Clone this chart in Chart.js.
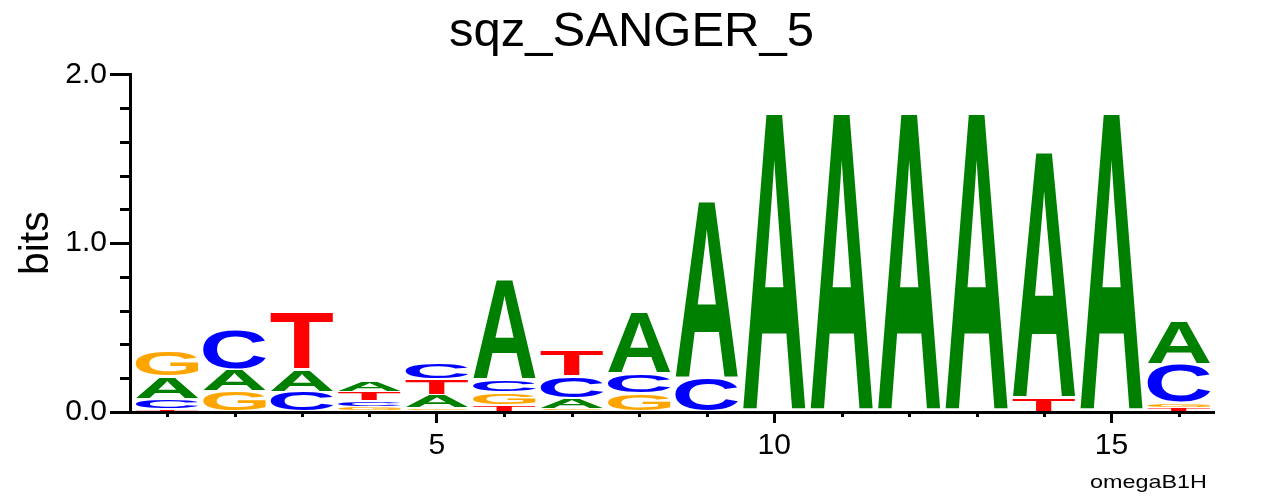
<!DOCTYPE html>
<html>
<head>
<meta charset="utf-8">
<title>sqz_SANGER_5</title>
<script src="https://cdn.jsdelivr.net/npm/chart.js@4"></script>
<style>
  html, body { margin: 0; padding: 0; background: #fff; }
  #wrap { width: 1263px; height: 496px; position: relative; }
</style>
</head>
<body>
<div id="wrap"><canvas id="logo"></canvas></div>
<script>
// sequence logo, one column per position, letter height in bits
const positions = [1, 2, 3, 4, 5, 6, 7, 8, 9, 10, 11, 12, 13, 14, 15, 16];
const letters = ['A', 'C', 'G', 'T'];
const heightA = [0.135, 0.130, 0.136, 0.068, 0.078, 0.590, 0.061, 0.360, 1.049, 1.770, 1.770, 1.770, 1.770, 1.462, 1.770, 0.259];
const heightC = [0.057, 0.239, 0.120, 0.033, 0.096, 0.077, 0.130, 0.115, 0.198, 0, 0, 0, 0, 0, 0, 0.229];
const heightG = [0.150, 0.123, 0, 0.030, 0.022, 0.073, 0.020, 0.111, 0, 0, 0, 0, 0, 0, 0, 0.030];
const heightT = [0.020, 0, 0.342, 0.056, 0.092, 0.043, 0.156, 0, 0, 0, 0, 0, 0, 0.079, 0, 0.026];
const yTicks = [0, 1, 2];
const xTicks = [5, 10, 15];
const TITLE = 'sqz_SANGER_5';
const Y_LABEL = 'bits';
const FOOTNOTE = 'omegaB1H';

const LETTER_COLORS = { A: '#008000', C: '#0000ff', G: '#ffa500', T: '#ff0000' };
const FONT = '"Liberation Sans", Arial, Helvetica, sans-serif';

const heights = { A: heightA, C: heightC, G: heightG, T: heightT };

// stack letters per column, smallest at the bottom
function buildRanges() {
  const out = { A: [], C: [], G: [], T: [] };
  positions.forEach((pos, i) => {
    const col = letters.map(l => ({ l, h: heights[l][i] })).sort((a, b) => a.h - b.h);
    let base = 0;
    col.forEach(({ l, h }) => {
      out[l].push({ x: pos, y: [base, base + h] });
      base += h;
    });
  });
  return out;
}
const ranges = buildRanges();

function drawGlyph(ctx, letter, color, left, top, w, h) {
  if (w <= 0 || h <= 0.3) return;
  ctx.save();
  ctx.font = 'bold 200px ' + FONT;
  ctx.textAlign = 'left';
  ctx.textBaseline = 'alphabetic';
  const m = ctx.measureText(letter);
  const gw = m.actualBoundingBoxLeft + m.actualBoundingBoxRight;
  const gh = m.actualBoundingBoxAscent + m.actualBoundingBoxDescent;
  ctx.translate(left, top);
  ctx.scale(w / gw, h / gh);
  ctx.fillStyle = color;
  ctx.fillText(letter, m.actualBoundingBoxLeft, m.actualBoundingBoxAscent);
  ctx.restore();
}

const glyphPlugin = {
  id: 'glyphs',
  afterDatasetsDraw(chart) {
    const ctx = chart.ctx;
    chart.data.datasets.forEach((ds, di) => {
      const meta = chart.getDatasetMeta(di);
      meta.data.forEach(bar => {
        const top = Math.min(bar.y, bar.base);
        const bottom = Math.max(bar.y, bar.base);
        const left = bar.x - bar.width / 2;
        drawGlyph(ctx, ds.label, LETTER_COLORS[ds.label], left, top + 1, bar.width, bottom - top - 2);
      });
    });
  },
  afterDraw(chart) {
    const ctx = chart.ctx;
    const xs = chart.scales.x, ys = chart.scales.y;
    ctx.save();
    ctx.strokeStyle = '#000';
    ctx.lineWidth = 3;
    ctx.beginPath();
    // minor ticks
    for (let v = 0.2; v < 2; v += 0.2) {
      if (Math.abs(v - Math.round(v)) < 1e-6) continue;
      const py = Math.round(ys.getPixelForValue(v)) + 0.5;
      ctx.moveTo(xs.left - 10, py);
      ctx.lineTo(xs.left, py);
    }
    positions.forEach(p => {
      if (p % 5 === 0) return;
      const px = Math.round(xs.getPixelForValue(p)) + 0.5;
      ctx.moveTo(px, ys.bottom);
      ctx.lineTo(px, ys.bottom + 5);
    });
    ctx.stroke();
    // footnote, drawn a bit wide like the original
    ctx.fillStyle = '#000';
    ctx.font = '19px ' + FONT;
    ctx.textAlign = 'left';
    ctx.textBaseline = 'alphabetic';
    const tw = ctx.measureText(FOOTNOTE).width;
    ctx.translate(1090, 488);
    ctx.scale(117 / tw, 1);
    ctx.fillText(FOOTNOTE, 0, 0);
    ctx.restore();
  }
};

const datasets = letters.map(l => ({
  label: l,
  data: ranges[l],
  backgroundColor: 'rgba(0,0,0,0)',
  borderWidth: 0,
  grouped: false,
  barPercentage: 0.93,
  categoryPercentage: 1,
}));

new Chart(document.getElementById('logo'), {
  type: 'bar',
  data: { datasets },
  plugins: [glyphPlugin],
  options: {
    responsive: true,
    maintainAspectRatio: false,
    animation: false,
    layout: { padding: 0 },
    plugins: {
      legend: { display: false },
      tooltip: { enabled: false },
      title: {
        display: true,
        text: TITLE,
        color: '#000',
        font: { family: FONT, size: 49, weight: 'normal', lineHeight: 1.2 },
        padding: { top: 3, bottom: 12.6 },
      },
    },
    scales: {
      x: {
        type: 'linear',
        min: 0.45,
        max: 16.52,
        offset: false,
        afterBuildTicks: s => { s.ticks = xTicks.map(v => ({ value: v })); },
        afterFit: s => { s.height = 84; },
        ticks: { color: '#000', padding: 5, font: { family: FONT, size: 30 }, maxRotation: 0 },
        grid: { display: true, drawOnChartArea: false, offset: false, tickLength: 11, tickWidth: 3, tickColor: '#000' },
        border: { display: true, color: '#000', width: 3 },
      },
      y: {
        min: 0,
        max: 2,
        afterBuildTicks: s => { s.ticks = yTicks.map(v => ({ value: v })); },
        afterFit: s => { s.width = 130; },
        ticks: { color: '#000', padding: 3, font: { family: FONT, size: 30 }, callback: v => v.toFixed(1) },
        grid: { display: true, drawOnChartArea: false, tickLength: 20, tickWidth: 3, tickColor: '#000' },
        border: { display: true, color: '#000', width: 3 },
        title: {
          display: true,
          text: Y_LABEL,
          color: '#000',
          font: { family: FONT, size: 41, lineHeight: 1.2 },
          padding: { top: 12, bottom: 0 },
        },
      },
      // empty right-hand margin so the title centres on the whole canvas
      yr: {
        type: 'linear',
        position: 'right',
        display: true,
        afterFit: s => { s.width = 49; },
        ticks: { display: false },
        grid: { display: false },
        border: { display: false },
      },
    },
  },
});
</script>
</body>
</html>
